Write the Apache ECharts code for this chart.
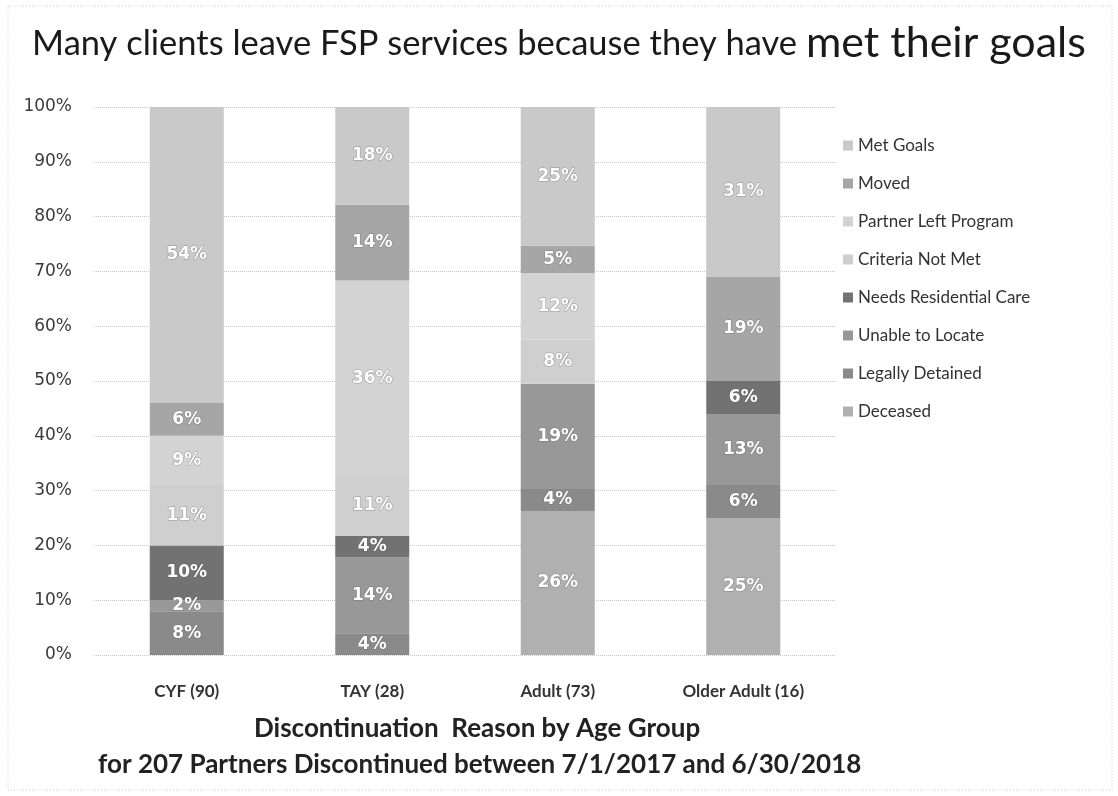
<!DOCTYPE html>
<html>
<head>
<meta charset="utf-8">
<title>Discontinuation Reason by Age Group</title>
<script src="https://cdn.jsdelivr.net/npm/echarts@6/dist/echarts.min.js"></script>
<style>
  html, body { margin: 0; padding: 0; background: #fff; }
  #main { width: 1118px; height: 796px; }
</style>
</head>
<body>
<div id="main"></div>
<script>
// categories (x axis)
var categories = ['CYF (90)', 'TAY (28)', 'Adult (73)', 'Older Adult (16)'];

// percent of each age group, as labelled in the bars (bottom to top of the stack)
var deceased             = [0, 0, 26, 25];
var legallyDetained      = [8, 4, 4, 6];
var unableToLocate       = [2, 14, 19, 13];
var needsResidentialCare = [10, 4, 0, 6];
var criteriaNotMet       = [11, 11, 8, 0];
var partnerLeftProgram   = [9, 36, 12, 0];
var moved                = [6, 14, 5, 19];
var metGoals             = [54, 18, 25, 31];

var yTicks = [0, 10, 20, 30, 40, 50, 60, 70, 80, 90, 100];

var seriesDefs = [
  { name: 'Deceased',                data: deceased,             color: '#b0b0b0' },
  { name: 'Legally Detained',        data: legallyDetained,      color: '#8a8a8a' },
  { name: 'Unable to Locate',        data: unableToLocate,       color: '#989898' },
  { name: 'Needs Residential Care',  data: needsResidentialCare, color: '#727272' },
  { name: 'Criteria Not Met',        data: criteriaNotMet,       color: '#cfcfcf' },
  { name: 'Partner Left Program',    data: partnerLeftProgram,   color: '#d3d3d3' },
  { name: 'Moved',                   data: moved,                color: '#a6a6a6' },
  { name: 'Met Goals',               data: metGoals,             color: '#c9c9c9' }
];

// 100% stacked: each column scaled to its own total (like Excel)
var totals = categories.map(function (c, i) {
  return seriesDefs.reduce(function (s, d) { return s + d.data[i]; }, 0);
});

var myChart = echarts.init(document.getElementById('main'));

var option = {
  backgroundColor: '#fff',
  animation: false,
  title: {
    text: '{a|Many clients leave FSP services because they have }{b|met their goals}',
    left: 'center',
    top: 17,
    textStyle: {
      rich: {
        a: { fontFamily: 'Lato', fontSize: 34.5, color: '#1a1a1a', fontWeight: 'normal' },
        b: { fontFamily: 'Lato', fontSize: 43, color: '#1a1a1a', fontWeight: 'normal' }
      }
    }
  },
  legend: {
    orient: 'vertical',
    left: 838,
    top: 132,
    itemWidth: 10,
    itemHeight: 10,
    itemGap: 21,
    icon: 'rect',
    data: seriesDefs.map(function (d) { return d.name; }).reverse(),
    textStyle: { fontFamily: 'Lato', fontSize: 17, color: '#333' }
  },
  grid: {
    left: 94,
    right: 282,
    top: 107,
    bottom: 141
  },
  xAxis: {
    type: 'category',
    data: categories,
    axisLine: { show: false },
    axisTick: { show: false },
    axisLabel: {
      margin: 28,
      fontFamily: 'Lato',
      fontWeight: 'bold',
      fontSize: 17,
      color: '#333'
    }
  },
  yAxis: {
    type: 'value',
    min: yTicks[0],
    max: yTicks[yTicks.length - 1],
    interval: yTicks[1] - yTicks[0],
    axisLine: { show: false },
    axisTick: { show: false },
    axisLabel: {
      margin: 22,
      fontFamily: 'DejaVu Sans',
      fontSize: 17,
      color: '#3a3a3a',
      formatter: '{value}%'
    },
    splitLine: { lineStyle: { color: '#c8c8c8', type: 'dotted', width: 1 } }
  },
  series: seriesDefs.map(function (d) {
    return {
      name: d.name,
      type: 'bar',
      stack: 'total',
      barWidth: 74,
      itemStyle: { color: d.color },
      label: {
        show: true,
        position: 'inside',
        color: '#fff',
        fontFamily: 'DejaVu Sans',
        fontWeight: 'bold',
        fontSize: 17,
        textBorderColor: 'rgba(90,90,90,0.5)',
        textBorderWidth: 1,
        formatter: function (p) {
          var v = d.data[p.dataIndex];
          return v ? v + '%' : '';
        }
      },
      data: d.data.map(function (v, i) { return v / totals[i] * 100; })
    };
  }),
  graphic: [
    {
      type: 'rect',
      shape: { x: 8, y: 6, width: 1104, height: 784 },
      style: { fill: 'none', stroke: '#cfcfcf', lineWidth: 1, lineDash: [1, 2] },
      silent: true
    },
    {
      type: 'text',
      left: 254,
      top: 716,
      style: {
        text: 'Discontinuation  Reason by Age Group',
        font: 'bold 26px Lato',
        fill: '#222'
      }
    },
    {
      type: 'text',
      left: 98,
      top: 752,
      style: {
        text: 'for 207 Partners Discontinued between 7/1/2017 and 6/30/2018',
        font: 'bold 26px Lato',
        fill: '#222'
      }
    }
  ]
};

option && myChart.setOption(option);
</script>
</body>
</html>
